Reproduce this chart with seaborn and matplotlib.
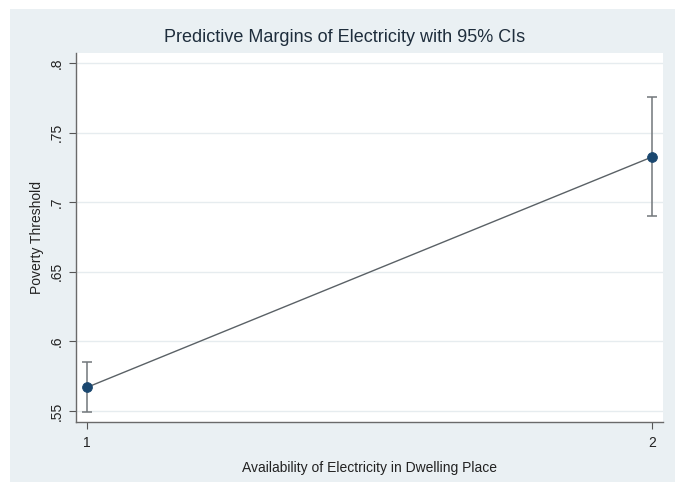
import matplotlib
matplotlib.use("Agg")
import matplotlib.pyplot as plt
from matplotlib.patches import Rectangle
import seaborn as sns
import pandas as pd

# Predictive margins with 95% confidence intervals
electricity = [1, 2]
margin = [0.567, 0.7325]
ci_low = [0.549, 0.690]
ci_high = [0.585, 0.7755]
y_ticks = [0.55, 0.60, 0.65, 0.70, 0.75, 0.80]
y_tick_labels = [".55", ".6", ".65", ".7", ".75", ".8"]

df = pd.DataFrame({"electricity": electricity, "margin": margin,
                   "lo": ci_low, "hi": ci_high})

sns.set_style("white")
plt.rcParams["font.family"] = ["Liberation Sans", "DejaVu Sans"]

region_bg = "#eaf0f3"
navy = "#1a476f"
grid_col = "#e6ecef"

fig = plt.figure(figsize=(6.75, 4.82), dpi=100)
fig.patch.set_facecolor("white")
# graph region background, leaving a thin white border top and left
fig.patches.append(Rectangle((10 / 675, 0), 1 - 10 / 675, 1 - 9 / 482,
                             transform=fig.transFigure, facecolor=region_bg,
                             edgecolor="none", zorder=-10))

ax = fig.add_axes([76 / 675, 60 / 482, 587 / 675, 369 / 482])
ax.set_facecolor("white")

for y in y_ticks:
    ax.axhline(y, color=grid_col, lw=1.0, zorder=0)

# confidence interval bars
ax.vlines(df["electricity"], df["lo"], df["hi"], color="#72777b", lw=1.1, zorder=2)
ax.hlines(list(df["lo"]) + list(df["hi"]),
          [x - 0.008 for x in electricity] * 2,
          [x + 0.008 for x in electricity] * 2,
          color="#72777b", lw=1.1, zorder=2)

sns.lineplot(data=df, x="electricity", y="margin", ax=ax, color="#5a6166",
             lw=1.0, zorder=3, legend=False)
sns.scatterplot(data=df, x="electricity", y="margin", ax=ax, color=navy,
                s=50, edgecolor=navy, zorder=4, legend=False)

ax.set_xlim(0.9805, 2.0195)
ax.set_ylim(0.5421, 0.8072)
ax.set_xticks(electricity)
ax.set_xticklabels([str(v) for v in electricity])
ax.set_yticks(y_ticks)
ax.set_yticklabels(y_tick_labels, rotation=90, va="center")

ax.tick_params(axis="both", direction="out", length=5, width=0.8,
               color="#555555", labelcolor="#222222", labelsize=10,
               left=True, bottom=True)
ax.tick_params(axis="x", pad=5)
ax.tick_params(axis="y", pad=4)
for side in ["top", "right"]:
    ax.spines[side].set_visible(False)
for side in ["left", "bottom"]:
    ax.spines[side].set_color("#6a6a6a")
    ax.spines[side].set_linewidth(1.0)

ax.set_xlabel("Availability of Electricity in Dwelling Place", fontsize=10,
              color="#222222", labelpad=8)
ax.set_ylabel("Poverty Threshold", fontsize=10, color="#222222", labelpad=4)
fig.text(345 / 675, 1 - 38 / 482, "Predictive Margins of Electricity with 95% CIs",
         ha="center", va="center", fontsize=13, color="#1e2d3c")

fig.savefig("out.png", dpi=100, facecolor=fig.get_facecolor())
